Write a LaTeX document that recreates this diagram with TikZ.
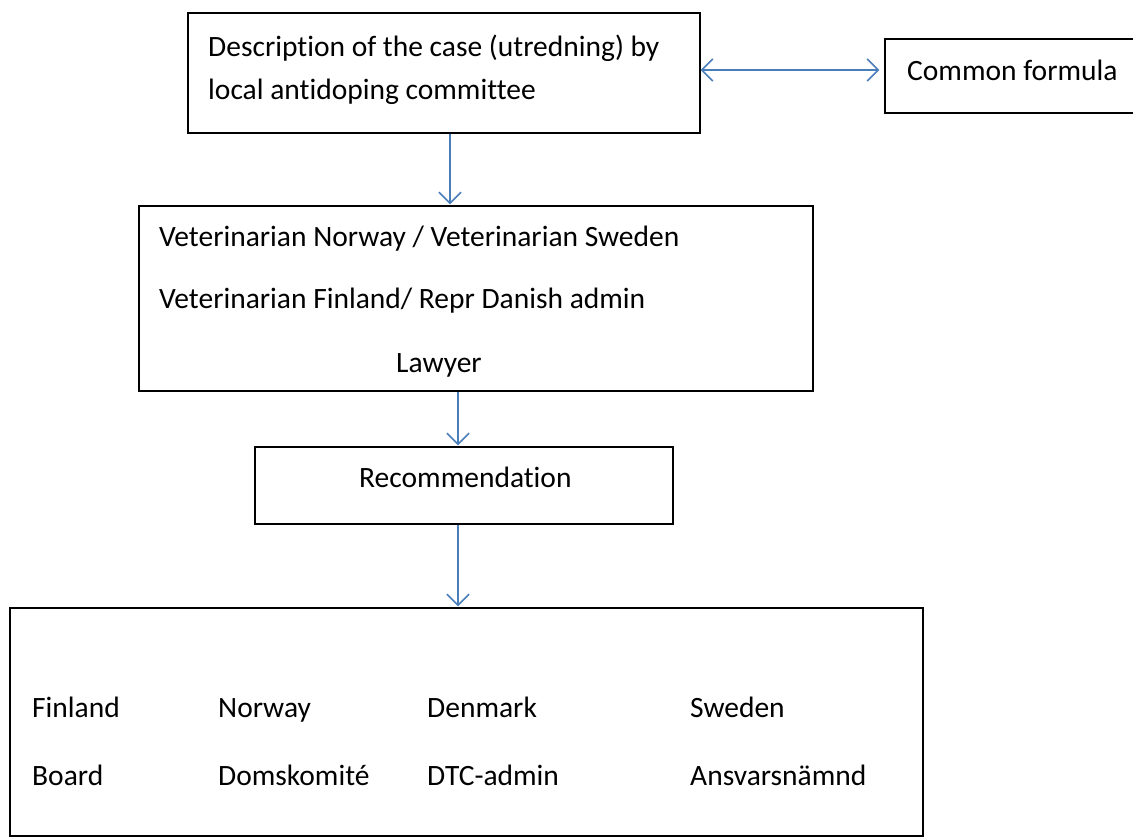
\documentclass[tikz,border=0pt]{standalone}
\usepackage{fontspec}
\setmainfont{Carlito}[Ligatures=NoCommon]
\usetikzlibrary{arrows.meta,fit}
\definecolor{arrowblue}{RGB}{74,126,187}
\tikzset{
  box/.style={draw=black, line width=1.3pt, inner sep=0pt},
  txt/.style={anchor=base west, inner sep=0pt, font=\fontsize{29.5}{35}\selectfont},
  barb/.tip={Straight Barb[length=11pt,width=22pt,line width=1.6pt]},
  link/.style={draw=arrowblue, line width=1.6pt, -barb},
  dlink/.style={draw=arrowblue, line width=1.6pt, barb-barb},
}
\begin{document}
\begin{tikzpicture}[x=1pt,y=-1pt]
\useasboundingbox (0,0) rectangle (1133,838);
% boxes
\node[box, fit={(188,13) (700,133)}] (b1) {};
\node[box, fit={(885,39) (1140,113)}] (cf) {};
\node[box, fit={(139,206) (813,391)}] (b2) {};
\node[box, fit={(255,447) (673,524)}] (rec) {};
\node[box, fit={(10,608) (923,836)}] (bot) {};
% texts
\node[txt] (t1a) at (208,56) {Description of the case (utredning) by};
\node[txt] (t1b) at (208,99) {local antidoping committee};
\node[txt] (tcf) at (907,80) {Common formula};
\node[txt] (t2a) at (159,246) {Veterinarian Norway / Veterinarian Sweden};
\node[txt] (t2b) at (159,308) {Veterinarian Finland/ Repr Danish admin};
\node[txt] (t2c) at (396,372) {Lawyer};
\node[txt] (trec) at (359,487) {Recommendation};
\node[txt] (fi1) at (32,717) {Finland};
\node[txt] (fi2) at (32,785) {Board};
\node[txt] (no1) at (218,717) {Norway};
\node[txt] (no2) at (218,785) {Domskomité};
\node[txt] (dk1) at (427,717) {Denmark};
\node[txt] (dk2) at (427,785) {DTC-admin};
\node[txt] (se1) at (690,717) {Sweden};
\node[txt] (se2) at (690,785) {Ansvarsnämnd};
% connectors
\draw[dlink, shorten >=5pt] ([yshift=3pt]b1.east) -- ([yshift=3pt]b1.east -| cf.west);
\draw[link, shorten >=1pt] ([xshift=6pt]b1.south) -- ([xshift=6pt]b1.south |- b2.north);
\draw[link, shorten >=1pt] ([xshift=-6pt]rec.north |- b2.south) -- ([xshift=-6pt]rec.north);
\draw[link, shorten >=1pt] ([xshift=-6pt]rec.south) -- ([xshift=-6pt]rec.south |- bot.north);
\end{tikzpicture}
\end{document}
